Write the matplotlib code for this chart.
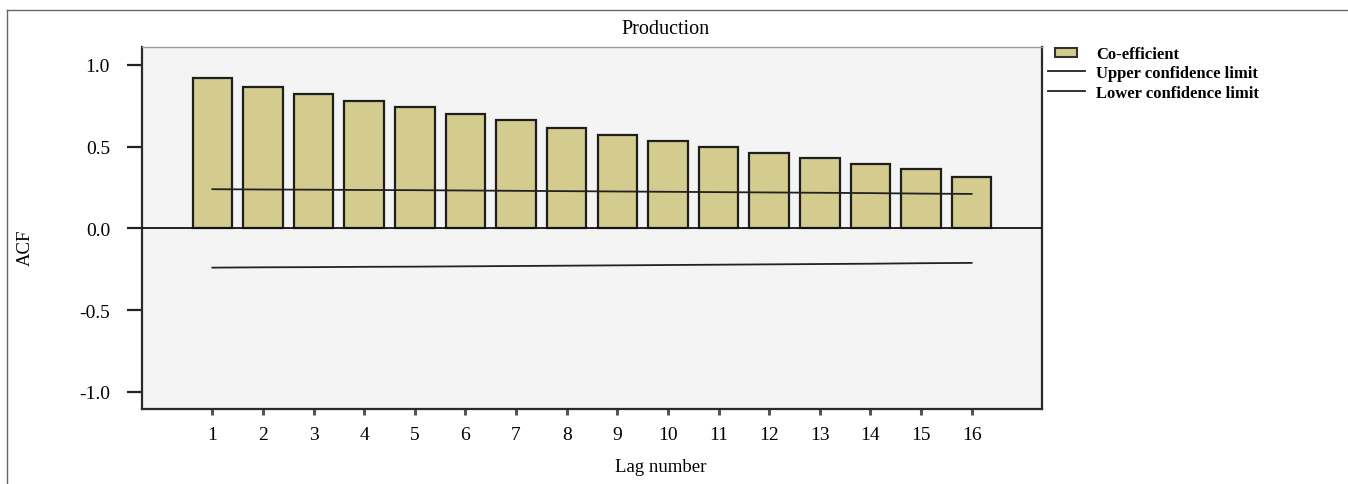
import numpy as np
import matplotlib.pyplot as plt
from matplotlib.patches import Patch, Rectangle
from matplotlib.lines import Line2D
from matplotlib.legend_handler import HandlerPatch

plt.rcParams['font.family'] = ['Liberation Serif', 'DejaVu Serif']

# ACF of production series, lags 1..16
lags = np.arange(1, 17)
acf = [0.92, 0.865, 0.82, 0.78, 0.742, 0.70, 0.663, 0.615,
       0.569, 0.532, 0.497, 0.459, 0.431, 0.394, 0.362, 0.312]
upper = [0.240, 0.238, 0.237, 0.235, 0.234, 0.232, 0.230, 0.228,
         0.226, 0.224, 0.222, 0.220, 0.218, 0.216, 0.213, 0.211]
lower = [-0.240, -0.238, -0.237, -0.235, -0.234, -0.232, -0.230, -0.228,
         -0.226, -0.224, -0.222, -0.220, -0.218, -0.216, -0.213, -0.211]
yticks = [-1.0, -0.5, 0.0, 0.5, 1.0]

W, H = 1348, 485
fig = plt.figure(figsize=(W / 100, H / 100), dpi=100)
ax = fig.add_axes([142 / W, 1 - 410 / H, 900 / W, 362 / H])
ax.set_facecolor('#f4f4f4')

bar_color = '#d4cb8e'
ax.bar(lags, acf, width=0.78, color=bar_color, edgecolor='#1e1e1e', linewidth=1.6, zorder=2)
ax.plot(lags, upper, color='#222222', lw=1.3, zorder=3)
ax.plot(lags, lower, color='#222222', lw=1.3, zorder=3)
ax.axhline(0, color='#111111', lw=1.3, zorder=3)

ax.set_xlim(-0.39, 17.39)
ax.set_ylim(-1.105, 1.11)
ax.set_xticks(lags)
ax.set_xticklabels([str(k) for k in lags])
ax.set_yticks(yticks)
ax.set_yticklabels([f'{v:.1f}' for v in yticks])
ax.tick_params(axis='y', length=11, width=1.6, color='#222222', labelsize=14, pad=12)
ax.tick_params(axis='x', length=4, width=2.2, color='#555555', labelsize=14, pad=8)

for side in ['left', 'bottom', 'right']:
    ax.spines[side].set_color('#2a2a2a')
    ax.spines[side].set_linewidth(1.6)
ax.spines['top'].set_color('#9a9a9a')
ax.spines['top'].set_linewidth(1.0)

fig.text(666 / W, 1 - 30 / H, 'Production', fontsize=14.5, ha='center', va='center')
fig.text(661 / W, 1 - 468 / H, 'Lag number', fontsize=13.5, ha='center', va='center')
fig.text(25 / W, 1 - 248 / H, 'ACF', fontsize=13.5, ha='center', va='center', rotation=90)


def small_box(legend, orig_handle, xdescent, ydescent, width, height, fontsize):
    return Rectangle((-xdescent + 0.2 * width, -ydescent + 0.1 * height),
                     0.6 * width, 0.75 * height)


handles = [Patch(facecolor=bar_color, edgecolor='#333333', linewidth=1.5),
           Line2D([], [], color='#222222', lw=1.3),
           Line2D([], [], color='#222222', lw=1.3)]
labels = ['Co-efficient', 'Upper confidence limit', 'Lower confidence limit']
ax.legend(handles, labels, loc='upper left', bbox_to_anchor=(906 / 900, 1.003),
          frameon=False, prop={'weight': 'bold', 'size': 12},
          handlelength=2.2, handletextpad=0.7, labelspacing=0.2, borderaxespad=0,
          borderpad=0, handler_map={Patch: HandlerPatch(patch_func=small_box)})

# outer frame around the chart
fig.add_artist(Line2D([7 / W, 7 / W], [0, 1 - 11 / H], color='#666666', lw=1.0))
fig.add_artist(Line2D([7 / W, 1], [1 - 11 / H, 1 - 11 / H], color='#666666', lw=1.0))

fig.savefig('out.png', dpi=100)
